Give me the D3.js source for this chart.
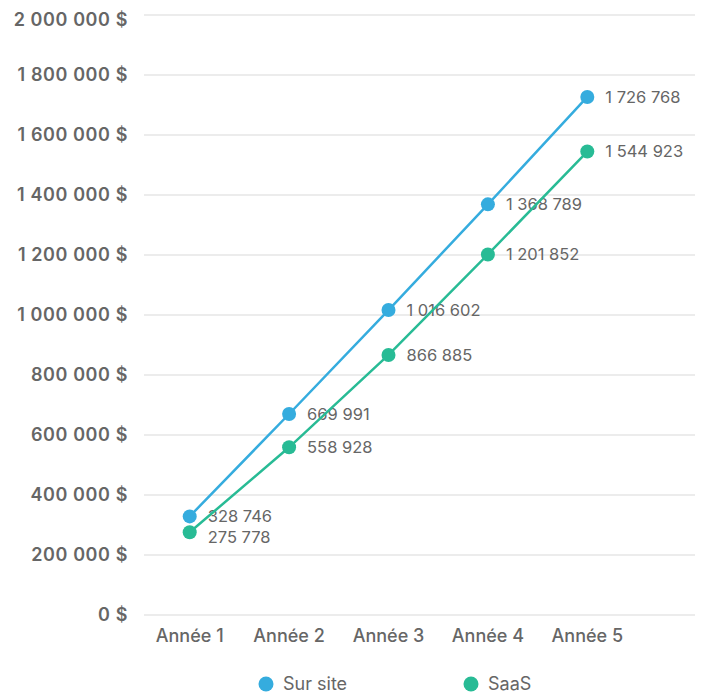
<!DOCTYPE html>
<html>
<head>
<meta charset="utf-8">
<script src="https://cdn.jsdelivr.net/npm/d3@7"></script>
<style>
  body { margin: 0; background: #fff; }
  svg { display: block; font-family: Inter, "Open Sans", sans-serif; }
</style>
</head>
<body>
<div id="chart"></div>
<script>
const years = ["Année 1", "Année 2", "Année 3", "Année 4", "Année 5"];
const surSite = [328746, 669991, 1016602, 1368789, 1726768];
const saas = [275778, 558928, 866885, 1201852, 1544923];
const yTicks = [0, 200000, 400000, 600000, 800000, 1000000, 1200000, 1400000, 1600000, 1800000, 2000000];
const seriesNames = ["Sur site", "SaaS"];

const width = 703;
const height = 695;

const svg = d3.select("#chart")
    .append("svg")
    .attr("width", width)
    .attr("height", height);

// french style grouping: "1 726 768"
const fr = d3.formatLocale({ decimal: ",", thousands: "\u00a0", grouping: [3], currency: ["", " $"] });
const fmt = fr.format(",d");

//scales
const x = d3.scalePoint()
    .domain(years)
    .range([140, 637])
    .padding(0.5);

const y = d3.scaleLinear()
    .domain([0, 2000000])
    .range([615, 15]);

const color = d3.scaleOrdinal()
    .domain(seriesNames)
    .range(["#35acde", "#28bb95"]);

//grid
svg.append("g")
    .selectAll("line")
    .data(yTicks)
    .enter()
    .append("line")
    .attr("x1", 144)
    .attr("x2", 695)
    .attr("y1", d => y(d))
    .attr("y2", d => y(d))
    .attr("stroke", "#d9d9d9")
    .attr("stroke-width", 1);

//y labels
svg.append("g")
    .selectAll("text")
    .data(yTicks)
    .enter()
    .append("text")
    .attr("x", 128)
    .attr("y", d => Math.max(y(d), 20))
    .attr("dy", "0.36em")
    .attr("text-anchor", "end")
    .attr("font-size", 18)
    .attr("font-weight", 600)
    .attr("letter-spacing", 0.6)
    .attr("fill", "#666")
    .text(d => fmt(d) + "\u00a0$");

//x labels
svg.append("g")
    .selectAll("text")
    .data(years)
    .enter()
    .append("text")
    .attr("x", d => x(d))
    .attr("y", 636)
    .attr("dy", "0.36em")
    .attr("text-anchor", "middle")
    .attr("font-size", 18)
    .attr("font-weight", 500)
    .attr("fill", "#666")
    .text(d => d);

const series = [
    { name: "Sur site", values: surSite },
    { name: "SaaS", values: saas }
];

const line = d3.line()
    .x((d, i) => x(years[i]))
    .y(d => y(d));

// value labels: keep the lower series' label at least 21px under the upper one
const labelY = (s, d, i) => {
    if (s.name === "SaaS") return Math.max(y(d), y(surSite[i]) + 21);
    return y(d);
};

series.forEach(s => {
    const g = svg.append("g");
    g.append("path")
        .datum(s.values)
        .attr("fill", "none")
        .attr("stroke", color(s.name))
        .attr("stroke-width", 2.5)
        .attr("d", line);

    g.selectAll("circle")
        .data(s.values)
        .enter()
        .append("circle")
        .attr("cx", (d, i) => x(years[i]))
        .attr("cy", d => y(d))
        .attr("r", 7)
        .attr("fill", color(s.name));

    g.selectAll("text")
        .data(s.values)
        .enter()
        .append("text")
        .attr("x", (d, i) => x(years[i]) + 18)
        .attr("y", (d, i) => labelY(s, d, i))
        .attr("dy", "0.36em")
        .attr("font-size", 16.5)
        .attr("fill", "#666")
        .text(d => fmt(d));
});

//legend
const legend = svg.append("g")
    .selectAll("g")
    .data(seriesNames)
    .enter()
    .append("g")
    .attr("transform", (d, i) => `translate(${266 + i * 205},684)`);

legend.append("circle")
    .attr("r", 7.5)
    .attr("fill", d => color(d));

legend.append("text")
    .attr("x", 17)
    .attr("dy", "0.36em")
    .attr("font-size", 18)
    .attr("fill", "#666")
    .text(d => d);
</script>
</body>
</html>
